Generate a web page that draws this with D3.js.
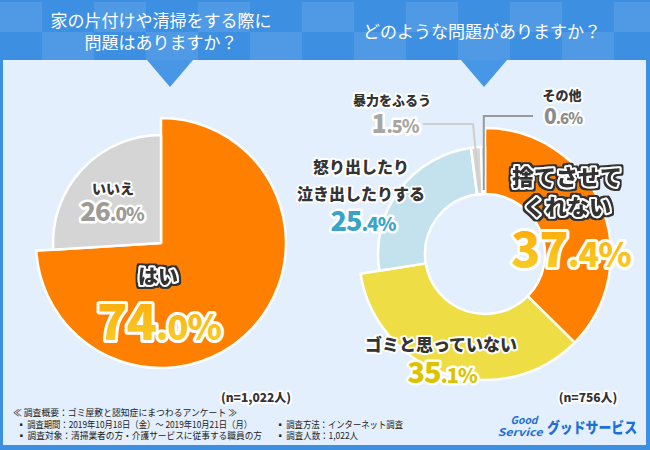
<!DOCTYPE html>
<html><head><meta charset="utf-8">
<script src="https://cdn.jsdelivr.net/npm/d3@7"></script>
<style>
html,body{margin:0;padding:0;background:#fff;}
svg{display:block;}
text{font-family:"Noto Sans CJK JP","Noto Sans",sans-serif;}
</style></head>
<body>
<svg id="chart" width="650" height="450"></svg>
<script>
// ---- data ----
const q1Title = ["家の片付けや清掃をする際に", "問題はありますか？"];
const q1Categories = ["はい", "いいえ"];
const q1Values = [74.0, 26.0];
const q1N = "(n=1,022人)";

const q2Title = ["どのような問題がありますか？"];
const q2Categories = ["捨てさせてくれない", "ゴミと思っていない", "怒り出したり泣き出したりする", "暴力をふるう", "その他"];
const q2Values = [37.4, 35.1, 25.4, 1.5, 0.6];
const q2N = "(n=756人)";

const footerLines = [
  "≪ 調査概要：ゴミ屋敷と認知症にまつわるアンケート ≫",
  "▪ 調査期間：2019年10月18日（金）～ 2019年10月21日（月）",
  "▪ 調査対象：清掃業者の方・介護サービスに従事する職員の方"
];
const footerCol2 = ["▪ 調査方法：インターネット調査", "▪ 調査人数：1,022人"];

// ---- drawing ----
const svg = d3.select("#chart");
const W = 650, H = 450;
const defs = svg.append("defs");
const grad = defs.append("linearGradient").attr("id","gold").attr("x1",0).attr("y1",0).attr("x2",0).attr("y2",1);
grad.append("stop").attr("offset","0%").attr("stop-color","#ff9f00");
grad.append("stop").attr("offset","100%").attr("stop-color","#f7d52c");
// dark outline filter (for labels on orange)
const flt = defs.append("filter").attr("id","darkOutline").attr("x","-20%").attr("y","-40%").attr("width","140%").attr("height","180%");
flt.append("feMorphology").attr("in","SourceAlpha").attr("operator","dilate").attr("radius",2.2).attr("result","dil");
flt.append("feFlood").attr("flood-color","#333").attr("result","col");
flt.append("feComposite").attr("in","col").attr("in2","dil").attr("operator","in").attr("result","outline");
const fm = flt.append("feMerge");
fm.append("feMergeNode").attr("in","outline");
fm.append("feMergeNode").attr("in","SourceGraphic");

// frame
svg.append("rect").attr("width",W).attr("height",H).attr("fill","#3d8fe2");
svg.append("rect").attr("x",3).attr("y",60).attr("width",W-7).attr("height",H-60-5).attr("fill","#e3effc");

// header checker
const hdr = svg.append("g");
const cw = 52, ch = 30;
for (let r = 0; r < 2; r++) {
  for (let c = 0; c < 14; c++) {
    if ((r + c) % 2 === 0) {
      hdr.append("rect").attr("x", c*cw - 10).attr("y", 2 + r*ch).attr("width", cw).attr("height", ch)
        .attr("fill", "#ffffff").attr("opacity", 0.10);
    }
  }
}
// pointers
svg.append("path").attr("d","M147,60 L193,60 L170,87 Z").attr("fill","#4896e6");
svg.append("path").attr("d","M461,60 L507,60 L484,87 Z").attr("fill","#4896e6");

// header titles
const titleG = svg.append("g").attr("fill","#fff").attr("font-size",17).attr("text-anchor","middle");
titleG.selectAll("text.t1").data(q1Title).join("text").attr("class","t1").attr("x",161).attr("y",(d,i)=>27+i*22).text(d=>d);
titleG.selectAll("text.t2").data(q2Title).join("text").attr("class","t2").attr("x",482).attr("y",38).text(d=>d);

// ---- left pie ----
const c1 = {x:161, y:243};
const pie = d3.pie().sort(null).value(d=>d.v);
const q1Data = pie(q1Categories.map((c,i)=>({c, v:q1Values[i]})));
const q1Color = d3.scaleOrdinal().domain(q1Categories).range(["#ff8000","#d5d5d5"]);
const q1Radius = d3.scaleOrdinal().domain(q1Categories).range([125,108]);
const g1 = svg.append("g").attr("transform",`translate(${c1.x},${c1.y})`);
g1.selectAll("path").data(q1Data).join("path")
  .attr("d", d=>d3.arc().innerRadius(0).outerRadius(q1Radius(d.data.c))(d))
  .attr("fill", d=>q1Color(d.data.c)).attr("stroke","#fff").attr("stroke-width",2.5).attr("stroke-linejoin","round");

// ---- right donut ----
const c2 = {x:485, y:254};
const q2Data = pie(q2Categories.map((c,i)=>({c, v:q2Values[i]})));
const q2Color = d3.scaleOrdinal().domain(q2Categories).range(["#ff8000","#eedd45","#c3e2ee","#d6d6d6","#c4c4c4"]);
const q2Radius = d3.scaleOrdinal().domain(q2Categories).range([126,126,107,107,107]);
const g2 = svg.append("g").attr("transform",`translate(${c2.x},${c2.y})`);
g2.selectAll("path").data(q2Data).join("path")
  .attr("d", d=>d3.arc().innerRadius(60).outerRadius(q2Radius(d.data.c))(d))
  .attr("fill", d=>q2Color(d.data.c)).attr("stroke","#fff").attr("stroke-width",2.5).attr("stroke-linejoin","round");

// leader lines for small slices
const leaderArc = d3.arc().innerRadius(64).outerRadius(64);
const p15 = leaderArc.centroid(q2Data[3]);
const p06 = leaderArc.centroid(q2Data[4]);
svg.append("path").attr("d",`M423,124 L473,124 L${c2.x+p15[0]},${c2.y+p15[1]}`)
  .attr("fill","none").attr("stroke","#cfcfcf").attr("stroke-width",2);
svg.append("path").attr("d",`M533,116 L${c2.x+p06[0]},116 L${c2.x+p06[0]},${c2.y+p06[1]}`)
  .attr("fill","none").attr("stroke","#9a9a9a").attr("stroke-width",2);

// helpers
function haloText(g, x, y, lines, size, lh, opts={}) {
  lines.forEach((t,i)=>{
    const el = g.append("text").attr("x",x).attr("y",y+i*lh).attr("text-anchor","middle").attr("font-size",size)
      .attr("font-weight",900).attr("fill",opts.fill || "#333").attr("stroke","#fff")
      .attr("stroke-width",opts.halo || 4).attr("stroke-linejoin","round").attr("paint-order","stroke").text(t);
    if (opts.double) el.attr("filter","url(#darkOutline)");
  });
}
function pctText(g, x, y, value, bigSize, smallSize, fill, sw) {
  const s = d3.format(".1f")(value);
  const [ip, dp] = s.split(".");
  const t = g.append("text").attr("x",x).attr("y",y).attr("text-anchor","middle")
    .attr("font-family","'Noto Sans','DejaVu Sans',sans-serif").attr("font-weight",900)
    .attr("letter-spacing",-1).attr("fill", fill)
    .attr("stroke","#fff").attr("stroke-width",sw).attr("stroke-linejoin","round").attr("paint-order","stroke");
  t.append("tspan").attr("font-size",bigSize).text(ip);
  t.append("tspan").attr("font-size",smallSize).text("."+dp+"%");
}

// ---- labels ----
const lab = svg.append("g");
haloText(lab, 113, 194, ["いいえ"], 14, 0, {halo:4});
pctText(lab, 112, 221, q1Values[1], 26, 19, "#9e9b96", 5);
haloText(lab, 158, 284, ["はい"], 20, 0, {double:true, halo:4});
pctText(lab, 159, 340, q1Values[0], 50, 35, "url(#gold)", 6);
haloText(lab, 256, 402, [q1N], 12, 0, {halo:4});

haloText(lab, 392, 105, ["暴力をふるう"], 13, 0, {halo:4});
pctText(lab, 395, 133, q2Values[3], 26, 18, "#a8a6a2", 5);
haloText(lab, 562, 100, ["その他"], 13, 0, {halo:4});
pctText(lab, 563, 124, q2Values[4], 21, 15, "#8c8c8c", 4);
haloText(lab, 361, 173, ["怒り出したり","泣き出したりする"], 16, 27, {halo:4});
pctText(lab, 363, 231, q2Values[2], 27, 19, "#3aa3c6", 5);
haloText(lab, 567, 185, ["捨てさせて","くれない"], 22, 30, {double:true, halo:4});
pctText(lab, 571, 267, q2Values[0], 48, 34, "url(#gold)", 6);
haloText(lab, 441, 351, ["ゴミと思っていない"], 17, 0, {halo:4});
pctText(lab, 442, 383, q2Values[1], 29, 20, "#dcc300", 5);
haloText(lab, 588, 402, [q2N], 12, 0, {halo:4});

// ---- footer ----
const ft = svg.append("g").attr("fill","#222").attr("font-size",9.5)
  .attr("font-family","'Liberation Sans','Noto Sans CJK JP',sans-serif");
const fw1 = [224, 235, 245];
footerLines.forEach((t,i)=>{
  ft.append("text").attr("x", i===0?13:17).attr("y",416+i*11.5).attr("textLength",fw1[i]).attr("lengthAdjust","spacingAndGlyphs").text(t);
});
const fw2 = [127, 82];
footerCol2.forEach((t,i)=>{
  ft.append("text").attr("x",276).attr("y",427.5+i*11.5).attr("textLength",fw2[i]).attr("lengthAdjust","spacingAndGlyphs").text(t);
});

// logo
const logo = svg.append("g").attr("fill","#1d6fd8").attr("font-family","'Liberation Sans','DejaVu Sans',sans-serif").attr("font-weight",700).attr("font-style","italic");
logo.append("text").attr("x",524).attr("y",424).attr("text-anchor","middle").attr("font-size",10.5).attr("textLength",27).attr("lengthAdjust","spacingAndGlyphs").text("Good");
logo.append("text").attr("x",520).attr("y",436).attr("text-anchor","middle").attr("font-size",10.5).attr("textLength",45).attr("lengthAdjust","spacingAndGlyphs").text("Service");
svg.append("text").attr("x",547).attr("y",433).attr("font-size",15).attr("font-weight",900).attr("fill","#1d6fd8")
  .attr("font-family","'Liberation Sans','Noto Sans CJK JP',sans-serif")
  .attr("textLength",90).attr("lengthAdjust","spacingAndGlyphs").text("グッドサービス");
</script>
</body></html>
